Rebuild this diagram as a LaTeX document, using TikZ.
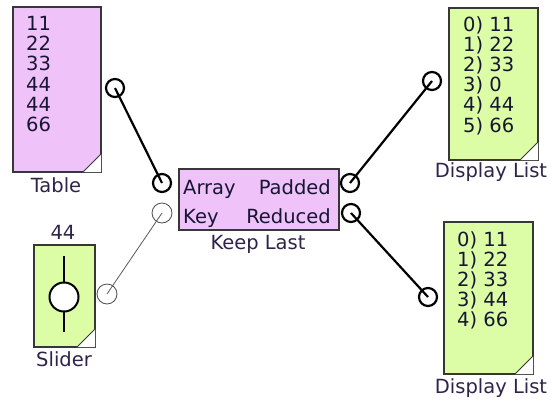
\documentclass[tikz,border=0pt]{standalone}
\usepackage{fontspec}
\setmainfont{DejaVu Sans}
\usepackage{tikz}
\usetikzlibrary{
    positioning,
    calc
}
\definecolor{blockpink}{RGB}{240,194,250}
\definecolor{blockgreen}{RGB}{220,253,166}
\definecolor{edgegray}{RGB}{55,55,55}
\definecolor{inktext}{RGB}{22,22,50}
\definecolor{captiontext}{RGB}{45,35,75}
\tikzstyle{block} = [
    rectangle,
    draw=edgegray,
    line width=2pt,
    inner sep=0pt,
    anchor=north west
]
\tikzstyle{listtext} = [
    font=\fontsize{19.5}{20.2}\selectfont,
    align=left,
    inner sep=0pt,
    anchor=north west,
    text=inktext
]
\tikzstyle{porttext} = [
    font=\fontsize{19.5}{20.2}\selectfont,
    inner sep=0pt,
    text=inktext
]
\tikzstyle{caption} = [
    font=\fontsize{19.5}{20.2}\selectfont,
    inner sep=0pt,
    anchor=base,
    text=captiontext
]
\tikzstyle{port} = [
    circle,
    draw=black,
    line width=2.2pt,
    minimum size=18pt,
    inner sep=0pt
]
\tikzstyle{ghostport} = [
    circle,
    draw=black!70,
    line width=0.8pt,
    minimum size=20pt,
    inner sep=0pt
]
\tikzstyle{wire} = [
    draw=black,
    line width=2.2pt
]
\tikzstyle{ghostwire} = [
    draw=black!65,
    line width=0.8pt
]
% white folded corner at the lower right of a block
\newcommand{\dogear}[1]{%
    \fill[white] ($(#1.south east)+(-1,-1)$) -- ++(-18,0) -- ++(18,-18) -- cycle;
    \draw[edgegray, line width=1pt] ($(#1.south east)+(-19,-1)$) -- ++(18,-18);
}

\begin{document}
\begin{tikzpicture}[x=1pt, y=-1pt]
        \useasboundingbox (0,0) rectangle (553,402);

        % Table (top left)
        \node[block, fill=blockpink, minimum width=88pt, minimum height=165pt] (table) at (12,6) {};
        \dogear{table}
        \node[listtext] (tablevals) at (26,16) {11\\22\\33\\44\\44\\66};
        \node[caption] (tablelab) at (56,192) {Table};
        \node[port] (tableout) at (115,88) {};

        % Slider (bottom left)
        \node[block, fill=blockgreen, minimum width=61pt, minimum height=102pt] (slider) at (33,244) {};
        \dogear{slider}
        \draw[line width=2pt] (64,256) -- (64,332);
        \node[circle, draw=black, fill=white, line width=2pt, minimum size=29pt, inner sep=0pt] (knob) at (64,297) {};
        \node[caption] (sliderval) at (63,239) {44};
        \node[caption] (sliderlab) at (64,366) {Slider};
        \node[ghostport] (sliderout) at (107,294) {};

        % Keep Last (middle)
        \node[block, fill=blockpink, minimum width=160pt, minimum height=61pt] (keep) at (178,168) {};
        \node[porttext, anchor=base west] (arraytxt) at (183,194) {Array};
        \node[porttext, anchor=base west] (keytxt) at (183,223) {Key};
        \node[porttext, anchor=base east] (paddedtxt) at (331,194) {Padded};
        \node[porttext, anchor=base east] (reducedtxt) at (331,223) {Reduced};
        \node[caption] (keeplab) at (258,249) {Keep Last};
        \node[port] (keyarray) at (162,183) {};
        \node[ghostport] (keykey) at (162,213) {};
        \node[port] (keypadded) at (350,183) {};
        \node[port] (keyreduced) at (351,213) {};

        % Display List (top right)
        \node[block, fill=blockgreen, minimum width=89pt, minimum height=152pt] (listone) at (448,7) {};
        \dogear{listone}
        \node[listtext] (listonevals) at (463,16) {0) 11\\1) 22\\2) 33\\3) 0\\4) 44\\5) 66};
        \node[caption] (listonelab) at (491,177) {Display List};
        \node[port] (listonein) at (432,81) {};

        % Display List (bottom right)
        \node[block, fill=blockgreen, minimum width=89pt, minimum height=152pt] (listtwo) at (443,221) {};
        \dogear{listtwo}
        \node[listtext] (listtwovals) at (457,231) {0) 11\\1) 22\\2) 33\\3) 44\\4) 66};
        \node[caption] (listtwolab) at (491,393) {Display List};
        \node[port] (listtwoin) at (428,297) {};

        % Wires - port centre to port centre
        \draw[wire] (tableout.center) -- (keyarray.center);
        \draw[ghostwire] (sliderout.center) -- (keykey.center);
        \draw[wire] (keypadded.center) -- (listonein.center);
        \draw[wire] (keyreduced.center) -- (listtwoin.center);
    \end{tikzpicture}
\end{document}
